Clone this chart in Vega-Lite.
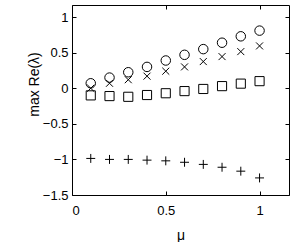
{
  "$schema": "https://vega.github.io/schema/vega-lite/v6.json",
  "width": 217,
  "height": 190,
  "autosize": "none",
  "padding": {"left": 72, "top": 5, "right": 12, "bottom": 47},
  "config": {
    "view": {"stroke": "black", "strokeWidth": 1},
    "font": "Liberation Sans",
    "axis": {"grid": false, "domain": false, "tickColor": "black", "labelColor": "black", "titleColor": "black", "labelFontSize": 13, "titleFontSize": 14, "titleFontWeight": "normal", "tickSize": -4}
  },
  "data": {"values": [
    {"mu": 0.1, "s": "circle", "v": 0.07}, {"mu": 0.2, "s": "circle", "v": 0.15}, {"mu": 0.3, "s": "circle", "v": 0.225}, {"mu": 0.4, "s": "circle", "v": 0.30}, {"mu": 0.5, "s": "circle", "v": 0.39}, {"mu": 0.6, "s": "circle", "v": 0.47}, {"mu": 0.7, "s": "circle", "v": 0.55}, {"mu": 0.8, "s": "circle", "v": 0.64}, {"mu": 0.9, "s": "circle", "v": 0.73}, {"mu": 1.0, "s": "circle", "v": 0.81},
    {"mu": 0.1, "s": "x", "v": 0.0}, {"mu": 0.2, "s": "x", "v": 0.07}, {"mu": 0.3, "s": "x", "v": 0.12}, {"mu": 0.4, "s": "x", "v": 0.17}, {"mu": 0.5, "s": "x", "v": 0.24}, {"mu": 0.6, "s": "x", "v": 0.30}, {"mu": 0.7, "s": "x", "v": 0.375}, {"mu": 0.8, "s": "x", "v": 0.445}, {"mu": 0.9, "s": "x", "v": 0.515}, {"mu": 1.0, "s": "x", "v": 0.595},
    {"mu": 0.1, "s": "square", "v": -0.10}, {"mu": 0.2, "s": "square", "v": -0.11}, {"mu": 0.3, "s": "square", "v": -0.12}, {"mu": 0.4, "s": "square", "v": -0.095}, {"mu": 0.5, "s": "square", "v": -0.07}, {"mu": 0.6, "s": "square", "v": -0.04}, {"mu": 0.7, "s": "square", "v": -0.01}, {"mu": 0.8, "s": "square", "v": 0.03}, {"mu": 0.9, "s": "square", "v": 0.065}, {"mu": 1.0, "s": "square", "v": 0.10},
    {"mu": 0.1, "s": "plus", "v": -0.986}, {"mu": 0.2, "s": "plus", "v": -1.0}, {"mu": 0.3, "s": "plus", "v": -1.0}, {"mu": 0.4, "s": "plus", "v": -1.01}, {"mu": 0.5, "s": "plus", "v": -1.02}, {"mu": 0.6, "s": "plus", "v": -1.04}, {"mu": 0.7, "s": "plus", "v": -1.07}, {"mu": 0.8, "s": "plus", "v": -1.11}, {"mu": 0.9, "s": "plus", "v": -1.165}, {"mu": 1.0, "s": "plus", "v": -1.26}
  ]},
  "resolve": {"axis": {"x": "independent", "y": "independent"}},
  "layer": [
    {
      "mark": {"type": "point", "filled": false, "color": "black", "strokeWidth": 1, "opacity": 1},
      "encoding": {
        "x": {"field": "mu", "type": "quantitative", "scale": {"domain": [0, 1.157], "nice": false, "zero": false}, "axis": {"values": [0, 0.5, 1], "title": "μ", "labelPadding": 13, "titlePadding": 11, "format": "~g"}},
        "y": {"field": "v", "type": "quantitative", "scale": {"domain": [-1.5, 1.17], "nice": false, "zero": false}, "axis": {"values": [-1.5, -1, -0.5, 0, 0.5, 1], "title": "max  Re(λ)", "labelPadding": 8, "titleX": -38, "titleY": 79, "titleAlign": "center", "titleBaseline": "middle", "format": "~g"}},
        "shape": {"field": "s", "type": "nominal", "legend": null, "scale": {"domain": ["circle", "x", "square", "plus"], "range": ["circle", "M-0.75,-0.75L0.75,0.75M-0.75,0.75L0.75,-0.75", "square", "M-1,0L1,0M0,-1L0,1"]}},
        "size": {"field": "s", "type": "nominal", "legend": null, "scale": {"domain": ["circle", "x", "square", "plus"], "range": [90, 80, 64, 81]}}
      }
    },
    {
      "mark": {"type": "point", "opacity": 0},
      "encoding": {
        "x": {"field": "mu", "type": "quantitative", "axis": {"orient": "top", "values": [0, 0.5, 1], "labels": false, "title": null}},
        "y": {"field": "v", "type": "quantitative", "axis": {"orient": "right", "values": [-1.5, -1, -0.5, 0, 0.5, 1], "labels": false, "title": null}}
      }
    }
  ]
}
